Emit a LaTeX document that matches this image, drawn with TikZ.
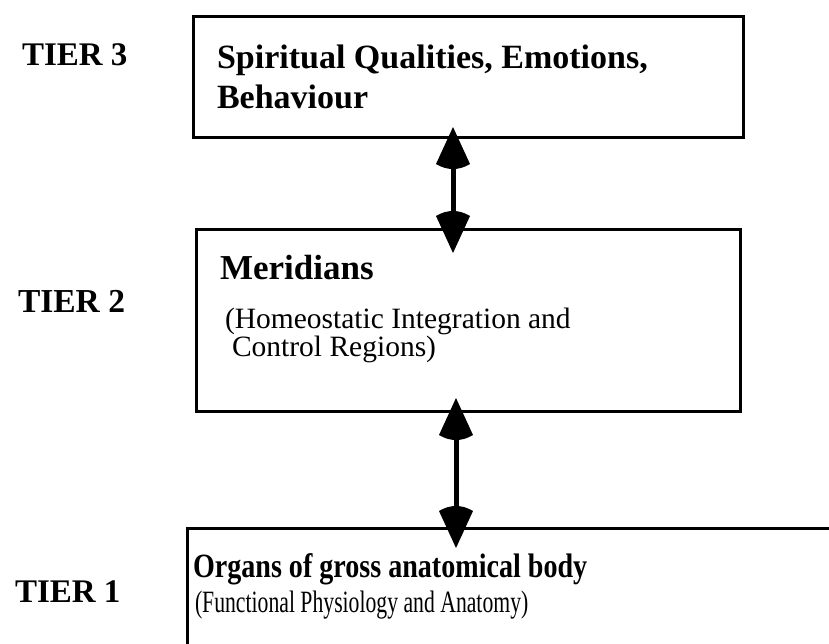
\documentclass[tikz,border=0pt]{standalone}
\usepackage{fontspec}
\setmainfont{Liberation Serif}
\usetikzlibrary{arrows.meta}

% Filled arrow head whose back edge is a shallow arc
\pgfdeclarearrow{
  name = FanTip,
  setup code = {
    \pgfarrowssettipend{0pt}
    \pgfarrowssetlineend{-36pt}
    \pgfarrowssetbackend{-42pt}
    \pgfarrowshullpoint{0pt}{0pt}
    \pgfarrowsupperhullpoint{-37pt}{17pt}
    \pgfarrowsupperhullpoint{-42pt}{0pt}
  },
  drawing code = {
    \pgfpathmoveto{\pgfpointorigin}
    \pgfpathlineto{\pgfpoint{-37pt}{17pt}}
    \pgfpathcurveto{\pgfpoint{-43.7pt}{6pt}}{\pgfpoint{-43.7pt}{-6pt}}{\pgfpoint{-37pt}{-17pt}}
    \pgfpathclose
    \pgfusepathqfill
  }
}

\begin{document}
\begin{tikzpicture}[x=1pt,y=-1pt,
  tierbox/.style={draw, line width=3pt, inner sep=0pt, outer sep=0pt},
  txt/.style={anchor=base west, inner sep=0pt, outer sep=0pt},
  biarrow/.style={line width=5pt, {FanTip}-{FanTip}}]
\useasboundingbox (0,0) rectangle (829,643);
\clip (0,0) rectangle (829,643);

% tier boxes
\node[tierbox, minimum width=550pt, minimum height=121pt] (b3) at (468,76.5) {};
\node[tierbox, minimum width=544pt, minimum height=182pt] (b2) at (468,320) {};
\node[tierbox, minimum width=713pt, minimum height=172pt] (b1) at (543.5,614) {};

% tier labels
\node[txt, font=\fontsize{33}{40}\selectfont\bfseries] (t3) at (22,65) {TIER 3};
\node[txt, font=\fontsize{33.5}{40}\selectfont\bfseries] (t2) at (18,312) {TIER 2};
\node[txt, font=\fontsize{33}{40}\selectfont\bfseries] (t1) at (15,602) {TIER 1};

% box contents
\node[txt, font=\fontsize{34}{40}\selectfont\bfseries] (s1) at (217,68) {Spiritual Qualities, Emotions,};
\node[txt, font=\fontsize{34}{40}\selectfont\bfseries] (s2) at (217,108) {Behaviour};

\node[txt, font=\fontsize{35}{42}\selectfont\bfseries] (m1) at (220,279) {Meridians};
\node[txt, font=\fontsize{29.5}{36}\selectfont] (m2) at (225,328) {(Homeostatic Integration and};
\node[txt, font=\fontsize{29.5}{36}\selectfont] (m3) at (232,356) {Control Regions)};

\node[txt, font=\fontsize{34}{40}\selectfont\bfseries] (o1) at (193,577) {\scalebox{0.826}[1]{Organs of gross anatomical body}};
\node[txt, font=\fontsize{31}{37}\selectfont] (o2) at (195,612) {\scalebox{0.70}[1]{(Functional Physiology and Anatomy)}};

% connections between tiers
\draw[biarrow, shorten <=-10pt, shorten >=-24pt]
  ([xshift=-15pt]b3.south) -- ([xshift=-15pt]b2.north);
\draw[biarrow, shorten <=-13pt, shorten >=-20pt]
  ([xshift=-12pt]b2.south) -- ([xshift=-12pt]b2.south |- b1.north);
\end{tikzpicture}
\end{document}
